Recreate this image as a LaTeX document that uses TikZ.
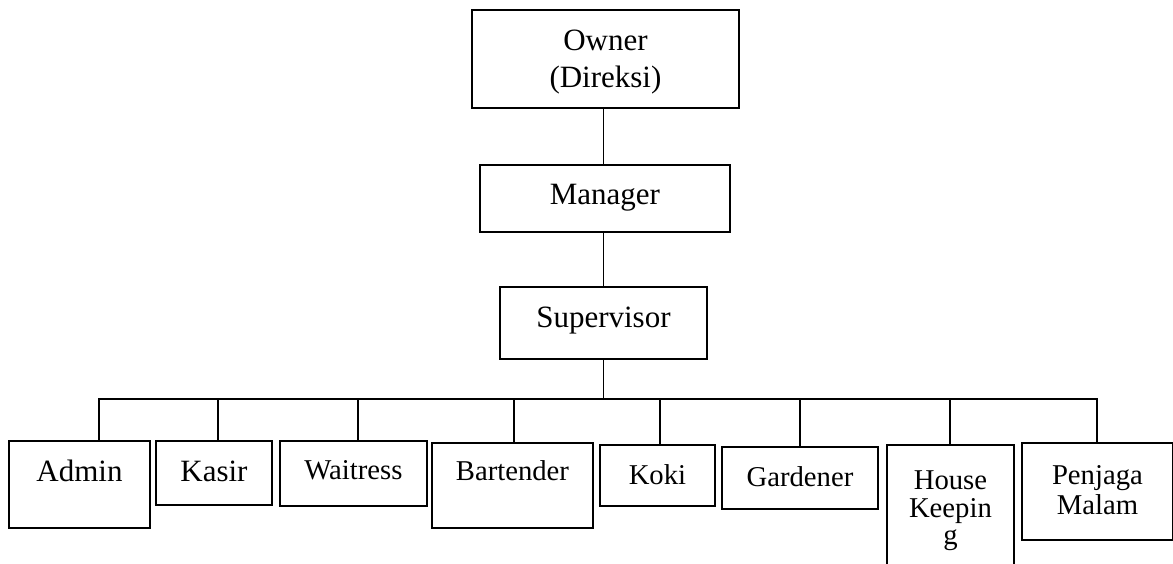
\documentclass[tikz,border=0pt]{standalone}
\usepackage{fontspec}
\setmainfont{Liberation Serif}
\newcommand\fbig{\fontsize{31}{37}\selectfont}
\newcommand\fsma{\fontsize{28.7}{27.5}\selectfont}
\newcommand\fsmb{\fontsize{28.7}{30}\selectfont}
\tikzset{
  orgbox/.style={draw, line width=1.9pt, inner sep=0pt, anchor=north west, align=center},
  link/.style={line width=1.9pt, line cap=rect}
}
\begin{document}
\begin{tikzpicture}[x=1pt, y=-1pt]
\useasboundingbox (0,0) rectangle (1173,564);
% top chain
\node[orgbox, font=\fbig, text width=267pt, text height=41pt, text depth=57pt] (owner) at (471,9) {Owner\\(Direksi)};
\node[orgbox, font=\fbig, text width=250pt, text height=40pt, text depth=27pt] (manager) at (479,164) {Manager};
\node[orgbox, font=\fbig, text width=207pt, text height=40.7pt, text depth=31.3pt] (supervisor) at (499,286) {Supervisor};
% bottom row
\node[orgbox, font=\fbig, text width=141pt, text height=40.7pt, text depth=46.3pt] (admin) at (8,440) {Admin};
\node[orgbox, font=\fbig, text width=116pt, text height=40.7pt, text depth=23.3pt] (kasir) at (155,440) {Kasir};
\node[orgbox, font=\fsma, text width=147pt, text height=38.3pt, text depth=26.7pt] (waitress) at (279,440) {Waitress};
\node[orgbox, font=\fsma, text width=161pt, text height=38pt, text depth=47pt] (bartender) at (431,442) {Bartender};
\node[orgbox, font=\fsma, text width=115pt, text height=39.3pt, text depth=21.7pt] (koki) at (599,444) {Koki};
\node[orgbox, font=\fsma, text width=156pt, text height=39.7pt, text depth=22.3pt] (gardener) at (721,446) {Gardener};
\node[orgbox, font=\fsma, text width=127pt, text height=45pt, text depth=85pt] (house) at (886,444) {House\\Keepin\\g};
\node[orgbox, font=\fsmb, text width=151pt, text height=41.5pt, text depth=55.5pt] (penjaga) at (1021,442) {Penjaga\\Malam};
% connectors
\coordinate (busL) at (99,399);
\coordinate (busR) at (1097,399);
\draw[link] (owner.south -| supervisor.north) -- (supervisor.north |- manager.north);
\draw[link] (supervisor.north |- manager.south) -- (supervisor.north);
\draw[link] (supervisor.south) -- (supervisor.south |- busL);
\draw[link] (admin.north -| busL) -- (busL) -- (busR) -- (penjaga.north -| busR);
\draw[link] ([xshift=4pt]kasir.north) -- ([xshift=4pt]kasir.north |- busL);
\draw[link] ([xshift=4.5pt]waitress.north) -- ([xshift=4.5pt]waitress.north |- busL);
\draw[link] ([xshift=1.5pt]bartender.north) -- ([xshift=1.5pt]bartender.north |- busL);
\draw[link] ([xshift=2.5pt]koki.north) -- ([xshift=2.5pt]koki.north |- busL);
\draw[link] (gardener.north) -- (gardener.north |- busL);
\draw[link] ([xshift=-0.5pt]house.north) -- ([xshift=-0.5pt]house.north |- busL);
\end{tikzpicture}
\end{document}
